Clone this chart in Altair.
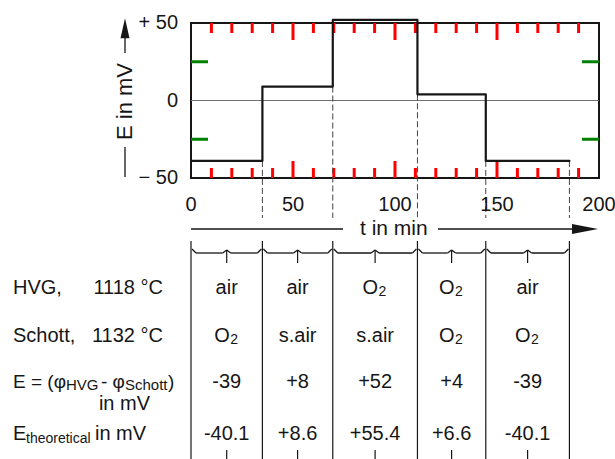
import altair as alt
import pandas as pd

FONT = "Liberation Sans"
INK = "#161616"

# ---------------- data ----------------
step_times = [0, 35, 69.5, 111, 144.5, 185.5]      # min: limits of the gas periods
step_levels = [-39, 9, 52, 4, -39]                  # mV: plateau of each period
x_tick_labels = [0, 50, 100, 150, 200]
y_tick_labels = [-50, 0, 50]
minor_ticks_t = [10, 20, 30, 40, 60, 70, 80, 90, 110, 120, 130, 140, 160, 170, 180, 190]
major_ticks_t = [50, 100, 150]
side_ticks_e = [-25, 25]
zero_line_e = [0]
hvg_gas = ["air", "air", "O2", "O2", "air"]
schott_gas = ["O2", "s.air", "s.air", "O2", "O2"]
e_measured = ["-39", "+8", "+52", "+4", "-39"]
e_theoretical = ["-40.1", "+8.6", "+55.4", "+6.6", "-40.1"]

# ---------------- tables built from the arrays ----------------
step_df = pd.DataFrame({"t": step_times, "E": step_levels + [step_levels[-1]]})
cols_df = pd.DataFrame({
    "a": step_times[:-1], "b": step_times[1:],
    "hvg": hvg_gas, "schott": schott_gas, "e": e_measured, "et": e_theoretical,
})
cols_df["c"] = (cols_df["a"] + cols_df["b"]) / 2
bound_df = pd.DataFrame({"t": step_times})
guide_E = [min(step_levels[i - 1], step_levels[i]) if i < len(step_levels) else step_levels[-1]
           for i in range(1, len(step_times))]
guide_df = pd.DataFrame({"t": step_times[1:], "E": guide_E})

xt_vals = sorted(set(minor_ticks_t + major_ticks_t + x_tick_labels))
xt_df = pd.DataFrame({
    "t": [float(v) for v in xt_vals],
    "kind": ["major" if v in major_ticks_t else ("minor" if v in minor_ticks_t else "end") for v in xt_vals],
    "lab": [str(v) if v in x_tick_labels else "" for v in xt_vals],
})
yt_vals = sorted(set(y_tick_labels + side_ticks_e + zero_line_e))
yt_df = pd.DataFrame({
    "E": [float(v) for v in yt_vals],
    "side": [v in side_ticks_e for v in yt_vals],
    "zero": [v in zero_line_e for v in yt_vals],
    "lab": [(("+ %d" % v) if v > 0 else (("\u2212 %d" % -v) if v < 0 else "0")) if v in y_tick_labels else ""
            for v in yt_vals],
})
one = pd.DataFrame({"k": [0]})

W, H = 408, 155
xs = alt.Scale(domain=[0, 200], nice=False, zero=False)
ys = alt.Scale(domain=[-50, 50], nice=False, zero=False)


def X(f):
    return alt.X(f"{f}:Q", scale=xs, axis=None)


def Y(f):
    return alt.Y(f"{f}:Q", scale=ys, axis=None)


def label(text, x, y, size=20, align="left", angle=0, baseline="alphabetic"):
    return alt.Chart(one).mark_text(
        text=text, align=align, baseline=baseline, fontSize=size, font=FONT,
        color=INK, angle=angle
    ).encode(x=alt.value(x), y=alt.value(y))


def seg(x, x2, y, y2, width=1.3, color=INK):
    return alt.Chart(one).mark_rule(color=color, strokeWidth=width).encode(
        x=alt.value(x), x2=alt.value(x2), y=alt.value(y), y2=alt.value(y2))


xt = alt.Chart(xt_df)
yt = alt.Chart(yt_df)
layers = []

# inward ticks on the frame (test colours to check visibility)
for kind, ln in (("minor", 10), ("major", 17)):
    sel = xt.transform_filter(f"datum.kind == '{kind}'")
    layers.append(sel.mark_rule(color="red", strokeWidth=3).encode(
        x=X("t"), y=alt.value(0), y2=alt.value(ln)))
    layers.append(sel.mark_rule(color="red", strokeWidth=3).encode(
        x=X("t"), y=alt.value(H - ln), y2=alt.value(H)))
side = yt.transform_filter("datum.side")
layers.append(side.mark_rule(color="green", strokeWidth=3).encode(
    y=Y("E"), x=alt.value(0), x2=alt.value(17)))
layers.append(side.mark_rule(color="green", strokeWidth=3).encode(
    y=Y("E"), x=alt.value(W - 17), x2=alt.value(W)))

# zero line
layers.append(yt.transform_filter("datum.zero").mark_rule(color="#707070", strokeWidth=1).encode(
    y=Y("E"), x=alt.value(0), x2=alt.value(W)))

# dashed guides from the steps down to the time arrow
layers.append(alt.Chart(guide_df).mark_rule(color="#444", strokeWidth=1, strokeDash=[6, 3]).encode(
    x=X("t"), y=Y("E"), y2=alt.value(195)))

# step curve
layers.append(alt.Chart(step_df).mark_line(
    interpolate="step-after", color=INK, strokeWidth=2.2, strokeJoin="round",
    strokeCap="round", clip=False
).encode(x=X("t"), y=Y("E")))

# tick labels
layers.append(xt.transform_filter("datum.lab != ''").mark_text(
    align="center", baseline="alphabetic", fontSize=20, font=FONT, color=INK
).encode(x=X("t"), y=alt.value(188), text="lab:N"))
layers.append(yt.transform_filter("datum.lab != ''").mark_text(
    align="right", baseline="middle", fontSize=20, font=FONT, color=INK
).encode(y=Y("E"), x=alt.value(-13), text="lab:N"))

# y axis arrow and title
layers.append(seg(-66, -66, 15, 30))
layers.append(seg(-66, -66, 124, 154))
layers.append(alt.Chart(one).mark_point(
    shape="M0,-1L0.45,1L-0.45,1Z", size=400, filled=True, color=INK, opacity=1
).encode(x=alt.value(-66), y=alt.value(5.3)))
layers.append(label("E in mV", -66, 78.5, size=22, align="center", angle=270, baseline="middle"))

# time arrow and title
layers.append(seg(0, 152, 206, 206))
layers.append(seg(247, 385, 206, 206))
layers.append(alt.Chart(one).mark_point(
    shape="M1,0L-1,-0.38L-1,0.38Z", size=676, filled=True, color=INK, opacity=1
).encode(x=alt.value(394), y=alt.value(206)))
layers.append(label("t in min", 202.8, 212, size=21, align="center"))

# table column lines
layers.append(alt.Chart(bound_df).mark_rule(color=INK, strokeWidth=1.2).encode(
    x=X("t"), y=alt.value(218), y2=alt.value(436)))


# braces
def brace(xf, x2f, y, y2, xo=0, x2o=0):
    return alt.Chart(cols_df).mark_rule(color=INK, strokeWidth=1.3, xOffset=xo, x2Offset=x2o).encode(
        x=X(xf), x2=alt.X2(f"{x2f}:Q"), y=alt.value(y), y2=alt.value(y2))


layers += [
    brace("a", "a", 226, 230, 1, 5),
    brace("a", "c", 230, 230, 5, -4),
    brace("c", "c", 230, 227, -4, 0),
    brace("c", "c", 227, 230, 0, 4),
    brace("c", "b", 230, 230, 4, -5),
    brace("b", "b", 230, 226, -5, -1),
]
layers.append(alt.Chart(cols_df).mark_rule(color=INK, strokeWidth=1.2).encode(
    x=X("c"), y=alt.value(227), y2=alt.value(240)))
layers.append(alt.Chart(cols_df).mark_rule(color=INK, strokeWidth=1.2).encode(
    x=X("c"), y=alt.value(427), y2=alt.value(436)))


# table cells
def cell_row(field, y):
    base = alt.Chart(cols_df)
    plain = base.transform_filter(f"datum.{field} != 'O2'").mark_text(
        align="center", baseline="alphabetic", fontSize=20, font=FONT, color=INK
    ).encode(x=X("c"), y=alt.value(y), text=f"{field}:N")
    o = base.transform_filter(f"datum.{field} == 'O2'").mark_text(
        text="O", align="right", dx=3, baseline="alphabetic", fontSize=20, font=FONT, color=INK
    ).encode(x=X("c"), y=alt.value(y))
    sub = base.transform_filter(f"datum.{field} == 'O2'").mark_text(
        text="2", align="left", dx=3.5, dy=2, baseline="alphabetic", fontSize=14, font=FONT, color=INK
    ).encode(x=X("c"), y=alt.value(y))
    return [plain, o, sub]


layers += cell_row("hvg", 271)
layers += cell_row("schott", 319)
layers += cell_row("e", 365)
layers += cell_row("et", 417)

# row labels
layers += [
    label("HVG,", -178, 271),
    label("1118 \u00b0C", -28, 271, align="right"),
    label("Schott,", -178, 319),
    label("1132 \u00b0C", -28, 319, align="right"),
    label("E = (\u03c6", -178, 365, size=19),
    label("HVG", -125, 367, size=15),
    label("- \u03c6", -90, 365, size=19),
    label("Schott", -66, 367, size=15),
    label(")", -23, 365, size=19),
    label("in mV", -41, 387, align="right"),
    label("E", -178, 417),
    label("theoretical", -165, 420, size=14),
    label("in mV", -96, 417),
]

chart = alt.layer(*layers).properties(
    width=W, height=H,
    padding={"left": 191, "top": 23, "right": 16, "bottom": 281},
    autosize=alt.AutoSizeParams(type="none"),
).configure_view(stroke=INK, strokeWidth=2)

chart.save("out.html", embed_options={"renderer": "svg", "actions": False})
